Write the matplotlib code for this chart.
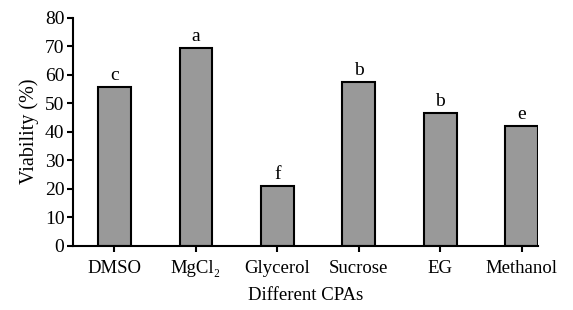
import matplotlib
matplotlib.use("Agg")
import matplotlib.pyplot as plt

plt.rcParams['font.family'] = ['Liberation Serif', 'DejaVu Serif']

categories = ["DMSO", "MgCl\u2082", "Glycerol", "Sucrose", "EG", "Methanol"]
viability = [55.8, 69.4, 21.0, 57.5, 46.7, 42.0]
letters = ["c", "a", "f", "b", "b", "e"]
yticks = [0, 10, 20, 30, 40, 50, 60, 70, 80]

fig = plt.figure(figsize=(5.73, 3.10), dpi=100)
ax = fig.add_axes([0.127, 0.2065, 0.812, 0.737])
x = list(range(len(categories)))
ax.bar(x, viability, width=0.40, color="#999999", edgecolor="black", linewidth=1.5, zorder=2)
for xi, v, l in zip(x, viability, letters):
    ax.text(xi, v + 0.9, l, ha="center", va="bottom", fontsize=14)

ax.set_xlim(-0.51, 5.2)
ax.set_ylim(0, 80)
ax.set_yticks(yticks)
ax.set_xticks(x)
ax.set_xticklabels(categories, fontsize=13.5)
ax.tick_params(axis='y', labelsize=14, width=1.5, length=4.5, direction='out', pad=1.5)
ax.tick_params(axis='x', width=1.5, length=4.5, direction='out', pad=5.5)
for s in ['top', 'right']:
    ax.spines[s].set_visible(False)
for s in ['left', 'bottom']:
    ax.spines[s].set_linewidth(1.5)
ax.set_ylabel("Viability (%)", fontsize=14.5, labelpad=4)
ax.set_xlabel("Different CPAs", fontsize=13.5, labelpad=7)

fig.savefig("out.png", dpi=100)
